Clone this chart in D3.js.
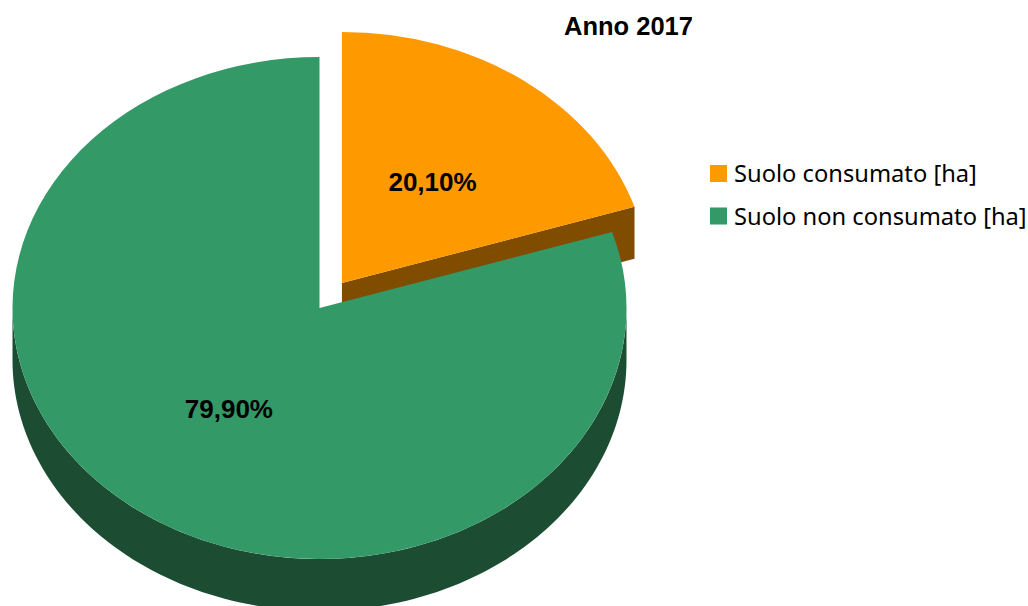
<!DOCTYPE html>
<html>
<head>
<meta charset="utf-8">
<script src="https://cdn.jsdelivr.net/npm/d3@7"></script>
<style>
  html, body { margin: 0; padding: 0; background: #ffffff; }
  svg { display: block; }
</style>
</head>
<body>
<svg id="chart" width="1028" height="606"></svg>
<script>
// Land use shares, year 2017
const categories = ["Suolo consumato [ha]", "Suolo non consumato [ha]"];
const shares = [20.10, 79.90];
const shareLabels = ["20,10%", "79,90%"];
const topColors = ["#FF9900", "#339966"];
const sideColors = ["#7F4C00", "#1C4D33"];
const exploded = [true, false];
const title = "Anno 2017";

const W = 1028, H = 606;
const svg = d3.select("#chart");

// 3D pie geometry: ellipse radii, wall depth and explode distance
const cx = 319.5, cy = 308;
const rx = 307, ry = 251;
const depth = 52;
const explodeDist = 38;
const k = ry / rx;

const pie = d3.pie().sort(null).value(d => d).startAngle(0).endAngle(2 * Math.PI);
const slices = pie(shares);

const arcTop = d3.arc().innerRadius(0).outerRadius(rx);

// point on the top ellipse for a d3 angle (0 = 12 o'clock, clockwise)
const pt = (a, r = 1) => [r * rx * Math.sin(a), -r * ry * Math.cos(a)];

slices.forEach((s, i) => {
  const mid = (s.startAngle + s.endAngle) / 2;
  const off = exploded[i] ? pt(mid, explodeDist / rx) : [0, 0];
  const g = svg.append("g")
    .attr("transform", `translate(${cx + off[0]},${cy + off[1]})`);

  // outer curved wall, only the front-facing part (between 3 and 9 o'clock)
  const a0 = Math.max(s.startAngle, Math.PI / 2);
  const a1 = Math.min(s.endAngle, 3 * Math.PI / 2);
  if (a1 > a0) {
    const n = 120;
    const angles = d3.range(n + 1).map(j => a0 + (a1 - a0) * j / n);
    const upper = angles.map(a => pt(a));
    const lower = angles.slice().reverse().map(a => { const p = pt(a); return [p[0], p[1] + depth]; });
    g.append("path")
      .attr("d", d3.line()(upper.concat(lower)) + "Z")
      .attr("fill", sideColors[i]);
  }

  // radial cut faces facing the viewer
  const faces = [];
  if (Math.sin(s.endAngle) > 1e-6) faces.push(s.endAngle);
  if (Math.sin(s.startAngle) < -1e-6) faces.push(s.startAngle);
  faces.forEach(a => {
    const p = pt(a);
    g.append("path")
      .attr("d", d3.line()([[0, 0], p, [p[0], p[1] + depth], [0, depth]]) + "Z")
      .attr("fill", sideColors[i]);
  });

  // top surface
  g.append("path")
    .attr("transform", `scale(1,${k})`)
    .attr("d", arcTop(s))
    .attr("fill", topColors[i]);
});

// percentage labels at half radius on each slice's mid angle
slices.forEach((s, i) => {
  const mid = (s.startAngle + s.endAngle) / 2;
  const off = exploded[i] ? pt(mid, explodeDist / rx) : [0, 0];
  const p = pt(mid, 0.5);
  svg.append("text")
    .attr("x", cx + off[0] + p[0])
    .attr("y", cy + off[1] + p[1])
    .attr("dy", "0.35em")
    .attr("text-anchor", "middle")
    .attr("font-family", "'Liberation Sans', Arial, sans-serif")
    .attr("font-weight", "bold")
    .attr("font-size", 26)
    .attr("fill", "#000")
    .text(shareLabels[i]);
});

// title
svg.append("text")
  .attr("x", 628.5)
  .attr("y", 34.5)
  .attr("text-anchor", "middle")
  .attr("font-family", "'Liberation Sans', Arial, sans-serif")
  .attr("font-weight", "bold")
  .attr("font-size", 25.5)
  .attr("fill", "#000")
  .text(title);

// legend
const legend = svg.append("g").attr("transform", "translate(710,165)");
const rowH = 42.5;
categories.forEach((c, i) => {
  const row = legend.append("g").attr("transform", `translate(0,${i * rowH})`);
  row.append("rect")
    .attr("width", 17).attr("height", 17)
    .attr("fill", topColors[i]);
  row.append("text")
    .attr("x", 24)
    .attr("y", 8.5)
    .attr("dy", "0.36em")
    .attr("font-family", "'Noto Sans', 'DejaVu Sans', sans-serif")
    .attr("font-size", 23.7)
    .attr("fill", "#000")
    .text(c);
});
</script>
</body>
</html>
